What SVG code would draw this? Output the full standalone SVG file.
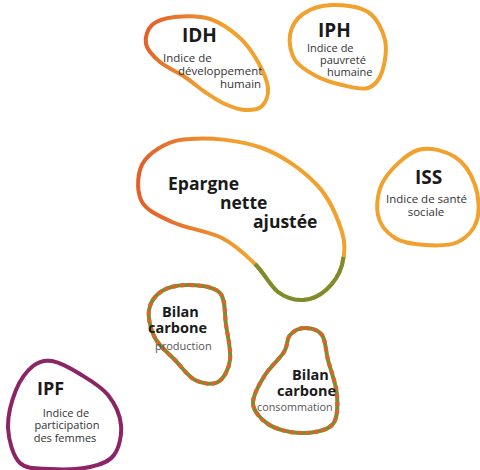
<svg xmlns="http://www.w3.org/2000/svg" width="480" height="470" viewBox="0 0 480 470">
<defs>
<linearGradient id="gIDH" gradientUnits="userSpaceOnUse" x1="145" y1="40" x2="215" y2="60">
<stop offset="0" stop-color="#e4602b"/><stop offset="1" stop-color="#f0a12e"/>
</linearGradient>
<linearGradient id="gEp" gradientUnits="userSpaceOnUse" x1="145" y1="180" x2="235" y2="170">
<stop offset="0" stop-color="#e4602b"/><stop offset="1" stop-color="#f0a12e"/>
</linearGradient>
<style>
.blob{fill:#fff;stroke-width:4;stroke-linejoin:round}
.or{stroke:#f0a12e}
.grn{stroke:#7d8c2e;fill:none;stroke-width:4;stroke-linecap:butt}
.dash{fill:none;stroke:#e4602b;stroke-width:4;stroke-dasharray:4 4}
.pur{stroke:#8b2565}
.t{font-family:"Open Sans","Noto Sans",sans-serif;font-weight:bold;fill:#1a1a1a}
.s{font-family:"Open Sans","Noto Sans",sans-serif;fill:#333}
.g{font-family:"Open Sans","Noto Sans",sans-serif;fill:#555}
</style>
</defs>
<g id="IDH">
<path class="blob" stroke="url(#gIDH)" d="M175,17 C184.7,16 199.2,15.5 210,19 C220.8,22.5 232,30.8 240,38 C248,45.2 253.3,53.7 258,62 C262.7,70.3 267.3,80.7 268,88 C268.7,95.3 265.8,102.3 262,106 C258.2,109.7 251.2,110.3 245,110 C238.8,109.7 231.7,107 225,104 C218.3,101 211.7,96.5 205,92 C198.3,87.5 192.5,82 185,77 C177.5,72 166.5,67.5 160,62 C153.5,56.5 147.3,50.2 146,44 C144.7,37.8 147.2,29.5 152,25 C156.8,20.5 165.3,18 175,17 Z"/>
<text class="t" x="182" y="42" font-size="19">IDH</text>
<text class="s" x="163" y="62" font-size="11.5">Indice de</text>
<text class="s" x="178" y="75" font-size="11.5">développement</text>
<text class="s" x="220" y="88" font-size="11.5">humain</text>
</g>
<g id="IPH">
<path class="blob or" d="M332,5 C342.8,4.7 359.2,6.2 368,12 C376.8,17.8 382.7,30 385,40 C387.3,50 384.8,64 382,72 C379.2,80 374.7,85.8 368,88 C361.3,90.2 350.7,87 342,85 C333.3,83 323.8,80.2 316,76 C308.2,71.8 299.3,66.8 295,60 C290.7,53.2 288.7,42.7 290,35 C291.3,27.3 296,19 303,14 C310,9 321.2,5.3 332,5 Z"/>
<text class="t" x="318" y="37" font-size="19">IPH</text>
<text class="s" x="307" y="52" font-size="11">Indice de</text>
<text class="s" x="320" y="64" font-size="11">pauvreté</text>
<text class="s" x="327" y="76" font-size="11">humaine</text>
</g>
<g id="Epargne">
<path class="blob" stroke="url(#gEp)" d="M190,139 C209.5,137 240.8,140.3 262,148 C283.2,155.7 303.7,171 317,185 C330.3,199 337.8,218.7 342,232 C346.2,245.3 344.7,255.3 342,265 C339.3,274.7 332.5,284.2 326,290 C319.5,295.8 311,299.7 303,300 C295,300.3 286,298 278,292 C270,286 264.3,273 255,264 C245.7,255 235.8,245 222,238 C208.2,231 185.5,228.3 172,222 C158.5,215.7 145.5,210.3 141,200 C136.5,189.7 136.8,170.2 145,160 C153.2,149.8 170.5,139 190,139 Z"/>
<path class="grn" d="M343.5,257 C342.8,260 342.5,262.5 342,265 C339.3,274.7 332.5,284.2 326,290 C319.5,295.8 311,299.7 303,300 C295,300.3 286,298 278,292 C270,286 264.3,273 255,264"/>
<text class="t" x="168" y="190" font-size="17.5">Epargne</text>
<text class="t" x="220" y="209" font-size="17.5">nette</text>
<text class="t" x="253" y="228" font-size="17.5">ajustée</text>
</g>
<g id="ISS">
<path class="blob or" d="M418,150 C429.8,146.2 445.5,151.2 455,157 C464.5,162.8 471.3,174.5 475,185 C478.7,195.5 479.8,210.5 477,220 C474.2,229.5 466.7,237.8 458,242 C449.3,246.2 435.5,245.7 425,245 C414.5,244.3 402.8,243 395,238 C387.2,233 379.8,224.7 378,215 C376.2,205.3 377.3,190.8 384,180 C390.7,169.2 406.2,153.8 418,150 Z"/>
<text class="t" x="415" y="184" font-size="19">ISS</text>
<text class="s" x="426.5" y="203" font-size="11.5" text-anchor="middle">Indice de santé</text>
<text class="s" x="426" y="216" font-size="11.5" text-anchor="middle">sociale</text>
</g>
<g id="BilanProduction">
<path class="blob grn" fill="#fff" style="fill:#fff" d="M190,285 C199.7,285.3 214,286.3 220,293 C226,299.7 224.3,313.8 226,325 C227.7,336.2 231.3,350.5 230,360 C228.7,369.5 223.8,378.7 218,382 C212.2,385.3 202.2,383.7 195,380 C187.8,376.3 181.7,367 175,360 C168.3,353 159.3,346.3 155,338 C150.7,329.7 147.8,317.8 149,310 C150.2,302.2 155.2,295.2 162,291 C168.8,286.8 180.3,284.7 190,285 Z"/>
<path class="dash" d="M190,285 C199.7,285.3 214,286.3 220,293 C226,299.7 224.3,313.8 226,325 C227.7,336.2 231.3,350.5 230,360 C228.7,369.5 223.8,378.7 218,382 C212.2,385.3 202.2,383.7 195,380 C187.8,376.3 181.7,367 175,360 C168.3,353 159.3,346.3 155,338 C150.7,329.7 147.8,317.8 149,310 C150.2,302.2 155.2,295.2 162,291 C168.8,286.8 180.3,284.7 190,285 Z"/>
<text class="t" x="162" y="317" font-size="14.5">Bilan</text>
<text class="t" x="148" y="333" font-size="14.5">carbone</text>
<text class="g" x="155" y="350" font-size="11">production</text>
</g>
<g id="BilanConsommation">
<path class="blob grn" style="fill:#fff" d="M305,328 C310.3,328 318.2,329.7 322,335 C325.8,340.3 325.5,350 328,360 C330.5,370 336.3,384.2 337,395 C337.7,405.8 338.2,418.7 332,425 C325.8,431.3 310.7,433.2 300,433 C289.3,432.8 275.8,429.2 268,424 C260.2,418.8 252.5,410.2 253,402 C253.5,393.8 259.8,383.3 265,375 C270.2,366.7 279.8,358.7 284,352 C288.2,345.3 286.5,339 290,335 C293.5,331 299.7,328 305,328 Z"/>
<path class="dash" d="M305,328 C310.3,328 318.2,329.7 322,335 C325.8,340.3 325.5,350 328,360 C330.5,370 336.3,384.2 337,395 C337.7,405.8 338.2,418.7 332,425 C325.8,431.3 310.7,433.2 300,433 C289.3,432.8 275.8,429.2 268,424 C260.2,418.8 252.5,410.2 253,402 C253.5,393.8 259.8,383.3 265,375 C270.2,366.7 279.8,358.7 284,352 C288.2,345.3 286.5,339 290,335 C293.5,331 299.7,328 305,328 Z"/>
<text class="t" x="292" y="380" font-size="14.5">Bilan</text>
<text class="t" x="277" y="396" font-size="14.5">carbone</text>
<text class="g" x="257" y="411" font-size="10.8">consommation</text>
</g>
<g id="IPF">
<path class="blob pur" d="M52,361 C59.8,362.3 70.7,368.3 80,374 C89.3,379.7 101.2,386.5 108,395 C114.8,403.5 120,415 121,425 C122,435 119.2,448 114,455 C108.8,462 100.7,464.7 90,467 C79.3,469.3 61.7,469.7 50,469 C38.3,468.3 27,469.8 20,463 C13,456.2 8.7,440.2 8,428 C7.7,415.8 11.8,400.3 16,390 C20.2,379.7 27,370.8 33,366 C39,361.2 44.2,359.7 52,361 Z"/>
<text class="t" x="37" y="395" font-size="18">IPF</text>
<text class="s" x="66" y="417" font-size="11" text-anchor="middle">Indice de</text>
<text class="s" x="67" y="429" font-size="11" text-anchor="middle">participation</text>
<text class="s" x="65" y="442" font-size="11" text-anchor="middle">des femmes</text>
</g>
<g id="connectors"/>
</svg>
